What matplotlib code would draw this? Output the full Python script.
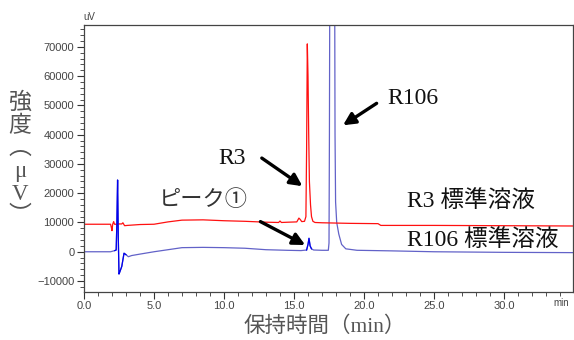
import numpy as np
import matplotlib.pyplot as plt
from matplotlib.ticker import MultipleLocator

# R3 standard solution trace (time in min, signal in uV)
r3_t = [0.0, 1.9, 1.96, 2.0, 2.05, 2.12, 2.18, 2.3, 2.5, 2.7, 2.78, 2.9, 3.1, 4.0, 5.0,
        6.0, 7.0, 8.5, 10.0, 11.5, 13.0, 13.9, 14.0, 14.1, 14.6, 15.2, 15.35, 15.45,
        15.55, 15.75, 15.85, 15.9, 15.95, 16.0, 16.05, 16.1, 16.18, 16.25, 16.35, 16.5,
        17.0, 19.0, 21.0, 21.2, 25.0, 30.0, 35.0]
r3_v = [9400, 9400, 8200, 7200, 9400, 10300, 9400, 9400, 9500, 9500, 9900, 8900, 9000,
        9300, 9400, 10200, 10800, 10900, 10600, 10400, 10100, 10000, 10500, 10000,
        10100, 10200, 11500, 11000, 10300, 10400, 12000, 35000, 71000, 60000, 40000,
        24000, 16000, 12000, 10400, 10000, 9900, 9700, 9600, 9000, 9000, 8900, 8800]

# R106 standard solution trace
r106_t = [0.0, 1.9, 2.2, 2.3, 2.35, 2.4, 2.45, 2.5, 2.55, 2.7, 2.86, 3.0, 3.17, 3.4, 4.0,
          5.0, 6.0, 7.0, 8.5, 10.0, 11.5, 13.0, 14.5, 15.5, 15.9, 16.0, 16.07, 16.15,
          16.25, 16.4, 17.0, 17.45, 17.5, 17.53, 17.56, 17.75, 17.9, 17.93, 17.97, 18.05,
          18.2, 18.4, 18.7, 19.5, 22.0, 25.0, 30.0, 35.0]
r106_v = [0, 0, 400, 600, 10000, 24500, 5000, -7600, -7000, -5000, -500, -1000, -1700,
          -1300, -800, 0, 700, 1400, 1500, 1400, 1200, 700, 500, 400, 600, 2500, 4600,
          2000, 1000, 600, 500, 500, 3000, 40000, 100000, 200000, 100000, 40000, 17000,
          10000, 6000, 2500, 1000, 500, 300, 0, -200, -300]

plt.rcParams['font.family'] = ['Liberation Sans', 'Noto Sans CJK JP']
jp = ['Liberation Serif', 'Noto Sans CJK JP']

fig = plt.figure(figsize=(5.74, 3.4), dpi=100)
ax = fig.add_axes([0.1463, 0.142, 0.8528, 0.784])

r106_t = np.array(r106_t)
r106_v = np.array(r106_v)
ax.plot(r106_t, r106_v, color='#6262c8', lw=0.9)
ax.plot(r3_t, r3_v, color='#ff1010', lw=0.9)
# bright blue parts of the R106 trace
for lo, hi in [(2.2, 3.0), (15.9, 16.25)]:
    m = (r106_t >= lo) & (r106_t <= hi)
    ax.plot(r106_t[m], r106_v[m], color='#0000ee', lw=0.9)

ax.set_xlim(0, 34.96)
ax.set_ylim(-13650, 77400)
ax.set_xticks([0, 5, 10, 15, 20, 25, 30])
ax.set_xticklabels(['0.0', '5.0', '10.0', '15.0', '20.0', '25.0', '30.0'])
ax.set_yticks(range(-10000, 70001, 10000))
ax.xaxis.set_minor_locator(MultipleLocator(1))
ax.yaxis.set_minor_locator(MultipleLocator(2000))
ax.tick_params(which='major', length=5, width=0.8, color='#333333',
               labelsize=8, labelcolor='#444444', pad=2)
ax.tick_params(which='minor', length=3, width=0.6, color='#333333')
for s in ax.spines.values():
    s.set_color('#444444')
    s.set_linewidth(0.9)

fig.text(0.146, 0.935, 'uV', fontsize=7, color='#444444', ha='left', va='bottom')
fig.text(0.992, 0.108, 'min', fontsize=7, color='#444444', ha='right', va='center')

fig.text(0.565, 0.04, '保持時間（min）', family=jp, fontsize=15.5, color='#555555',
         ha='center', va='center')
fig.text(0.035, 0.53, '強\n度\n︵\nμ\nV\n︶', family=jp, fontsize=16.5,
         color='#555555', ha='center', va='center', linespacing=1.1)

ax.text(11.7, 17500, 'ピーク①', family=jp, fontsize=16, color='#333333',
        ha='right', va='center')
ax.text(10.6, 32000, 'R3', family=jp, fontsize=17, color='#111111',
        ha='center', va='center')
ax.text(21.7, 52500, 'R106', family=jp, fontsize=17, color='#111111',
        ha='left', va='center')
ax.text(23.1, 17000, 'R3 標準溶液', family=jp, fontsize=17, color='#111111',
        ha='left', va='center')
ax.text(23.1, 3700, 'R106 標準溶液', family=jp, fontsize=17, color='#111111',
        ha='left', va='center')

arrow = dict(arrowstyle='-|>', lw=2.4, color='black', mutation_scale=18,
             shrinkA=0, shrinkB=0)
ax.annotate('', xy=(15.8, 2300), xytext=(12.6, 10300), arrowprops=arrow)
ax.annotate('', xy=(15.6, 22400), xytext=(12.7, 32000), arrowprops=arrow)
ax.annotate('', xy=(18.5, 43200), xytext=(20.9, 50700), arrowprops=arrow)

fig.savefig('out.png', dpi=100)
